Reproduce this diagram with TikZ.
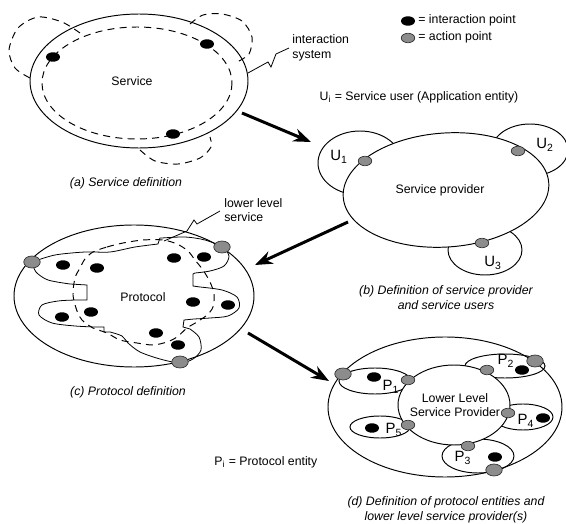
\documentclass[tikz,border=0pt]{standalone}
\usepackage{fontspec}
\setmainfont{Liberation Sans}
\usetikzlibrary{shapes.geometric,arrows.meta}
\begin{document}
\begin{tikzpicture}[x=0.02cm,y=-0.02cm,
  font=\fontsize{7}{8.2}\selectfont,
  ipt/.style={ellipse,fill=black,inner sep=0pt,minimum width=0.28cm,minimum height=0.19cm},
  apt/.style={ellipse,fill=black!45,draw=black!80,line width=0.4pt,inner sep=0pt,minimum width=0.27cm,minimum height=0.19cm},
  aptbig/.style={apt,minimum width=0.33cm,minimum height=0.24cm},
  bound/.style={line width=0.55pt},
  fineline/.style={line width=0.45pt},
  svcdash/.style={line width=0.55pt,dash pattern=on 4pt off 3pt},
  flow/.style={line width=1.7pt,-{Stealth[length=10pt,width=7.5pt]}},
  zig/.style={line width=0.45pt},
  txt/.style={inner sep=0pt},
  ent/.style={inner sep=0pt,font=\fontsize{8.5}{9}\selectfont},
  capt/.style={inner sep=0pt,font=\fontsize{7}{8.6}\selectfont\itshape,align=center}
]
\useasboundingbox (0,0) rectangle (566,524);

% ---------- (a) service definition ----------
\draw[svcdash] plot[smooth] coordinates {(80,33) (62,22) (38,17) (18,28) (9,50) (15,68) (30,78)};
\draw[svcdash] plot[smooth] coordinates {(190,24) (203,15) (222,14) (242,21) (252,37) (249,54) (237,62)};
\draw[svcdash] plot[smooth] coordinates {(140,150) (155,161) (178,164) (200,158) (211,147) (210,137)};
\draw[svcdash] (137,83) ellipse [x radius=95, y radius=56];
\draw[bound] (139,81) ellipse [x radius=109, y radius=67];
\node[ipt] (a1) at (53,57) {};
\node[ipt] (a2) at (207,44) {};
\node[ipt] (a3) at (173,134) {};
\node[txt] (asvc) at (132,81) {Service};
\node[txt,align=left,anchor=west] (aint) at (292,48) {interaction\\system};
\coordinate (aedge) at (248,73);
\coordinate (atip) at (289,48);
\draw[zig] (aedge) -- (268,62) -- (271,67) -- (276,54) -- (atip);
\node[capt] (acap) at (126,183) {(a) Service definition};

% legend
\node[ipt] (k1) at (408,21) {};
\node[txt,anchor=west] (k1t) at (418,20) {= interaction point};
\node[apt] (k2) at (408,38) {};
\node[txt,anchor=west] (k2t) at (418,37) {= action point};

% ---------- (b) service provider and users ----------
\draw[bound] (360,163) ellipse [x radius=42, y radius=32];
\draw[bound] (530,150) ellipse [x radius=38, y radius=26];
\draw[bound] (485,250) ellipse [x radius=37, y radius=25];
\draw[bound,fill=white,rotate around={4:(446,190)}] (446,190) ellipse [x radius=103, y radius=57];
\node[apt] (b1) at (365,161) {};
\node[apt] (b2) at (518,151) {};
\node[apt] (b3) at (482,243) {};
\node[ent] (bu1) at (339,157) {U\textsubscript{1}};
\node[ent] (bu2) at (545,145) {U\textsubscript{2}};
\node[ent] (bu3) at (493,263) {U\textsubscript{3}};
\node[txt] (bsp) at (440,190) {Service provider};
\node[txt] (bkey) at (419,97) {U\textsubscript{i} = Service user (Application entity)};
\node[capt] (bcap) at (446,298) {(b) Definition of service provider\\and service users};

% ---------- (c) protocol definition ----------
\draw[bound] (134,296) ellipse [x radius=120, y radius=71];
\draw[fineline] plot[smooth] coordinates {(32,262) (55,255) (85,252) (110,252) (135,247) (158,244)}
  -- (160,238)
  -- plot[smooth] coordinates {(162,238) (185,237) (205,240) (222,247) (229,256) (224,266) (210,271) (195,273)}
  -- (193,274) -- (193,286)
  -- plot[smooth] coordinates {(200,287) (222,290) (237,297) (239,308) (228,316) (210,318) (194,319)}
  -- (184,320) -- (183,327)
  -- plot[smooth] coordinates {(190,329) (199,337) (201,350) (193,359) (180,363) (160,359) (140,352) (128,343) (122,336) (110,332)}
  -- (104,332) -- (104,327)
  -- plot[smooth] coordinates {(95,327) (75,326) (52,323) (39,315) (42,305) (58,301) (76,300) (86,300)}
  -- (87,300) -- (87,285)
  -- plot[smooth] coordinates {(70,284) (48,280) (36,272) (32,262)};
\draw[svcdash] plot[smooth cycle] coordinates {(93,252) (107,247) (123,243) (143,240) (163,240) (177,244) (188,251) (195,260) (203,270) (210,282) (214,294) (213,307) (207,315) (197,322) (187,328) (177,337) (167,342) (153,345) (137,343) (120,340) (107,333) (93,328) (82,320) (77,311) (73,295) (75,278) (80,268) (85,259)};
\node[ipt] (c1) at (63,265) {};
\node[ipt] (c2) at (97,268) {};
\node[ipt] (c3) at (174,258) {};
\node[ipt] (c4) at (204,257) {};
\node[ipt] (c5) at (193,302) {};
\node[ipt] (c6) at (228,305) {};
\node[ipt] (c7) at (62,317) {};
\node[ipt] (c8) at (91,312) {};
\node[ipt] (c9) at (156,333) {};
\node[ipt] (c10) at (178,345) {};
\node[aptbig] (cp1) at (32,262) {};
\node[aptbig] (cp2) at (222,247) {};
\node[aptbig] (cp3) at (180,362) {};
\node[txt] (cprot) at (143,297) {Protocol};
\node[txt,align=left,anchor=west] (clls) at (224,210) {lower level\\service};
\coordinate (ctip) at (220,211);
\coordinate (cend) at (164,241);
\draw[zig] (ctip) -- (197,224) -- (194,220) -- (187,231) -- (cend);
\node[capt] (ccap) at (128,392) {(c) Protocol definition};
\node[txt,anchor=west] (ckey) at (214,462) {P\textsubscript{i} = Protocol entity};

% ---------- (d) protocol entities and lower level provider ----------
\draw[bound] (445,407) ellipse [x radius=117, y radius=70];
\draw[bound] (375,381) ellipse [x radius=36, y radius=13];
\draw[bound] (505,366) ellipse [x radius=40, y radius=12];
\draw[bound] (523,417) ellipse [x radius=30, y radius=13];
\draw[bound] (380,427) ellipse [x radius=30, y radius=11];
\draw[bound] (478,456) ellipse [x radius=36, y radius=17];
\draw[bound,fill=white] (454,405) ellipse [x radius=56, y radius=40];
\node[txt,align=center] (dll) at (455,405) {Lower Level\\Service Provider};
\node[ipt] (d1) at (374,377) {};
\node[ipt] (d2) at (522,370) {};
\node[ipt] (d4) at (543,418) {};
\node[ipt] (d5) at (372,428) {};
\node[ipt] (d3) at (495,457) {};
\node[apt] (dq1) at (408,380) {};
\node[apt] (dq2) at (487,370) {};
\node[apt] (dq4) at (508,413) {};
\node[apt] (dq5) at (408,425) {};
\node[apt] (dq3) at (468,446) {};
\node[aptbig] (dp1) at (343,374) {};
\node[aptbig] (dp2) at (535,361) {};
\node[aptbig] (dp3) at (494,470) {};
\node[ent] (dl1) at (391,387) {P\textsubscript{1}};
\node[ent] (dl2) at (506,361) {P\textsubscript{2}};
\node[ent] (dl4) at (526,421) {P\textsubscript{4}};
\node[ent] (dl5) at (394,430) {P\textsubscript{5}};
\node[ent] (dl3) at (463,458) {P\textsubscript{3}};
\node[capt] (dcap) at (446,510) {(d) Definition of protocol entities and\\lower level service provider(s)};

% ---------- transitions between the four views ----------
\coordinate (f1s) at (242,113);
\coordinate (f1e) at (311,142);
\coordinate (f2s) at (348,222);
\coordinate (f2e) at (255,265);
\coordinate (f3s) at (248,333);
\coordinate (f3e) at (329,381);
\draw[flow] (f1s) -- (f1e);
\draw[flow] (f2s) -- (f2e);
\draw[flow] (f3s) -- (f3e);
\end{tikzpicture}
\end{document}
